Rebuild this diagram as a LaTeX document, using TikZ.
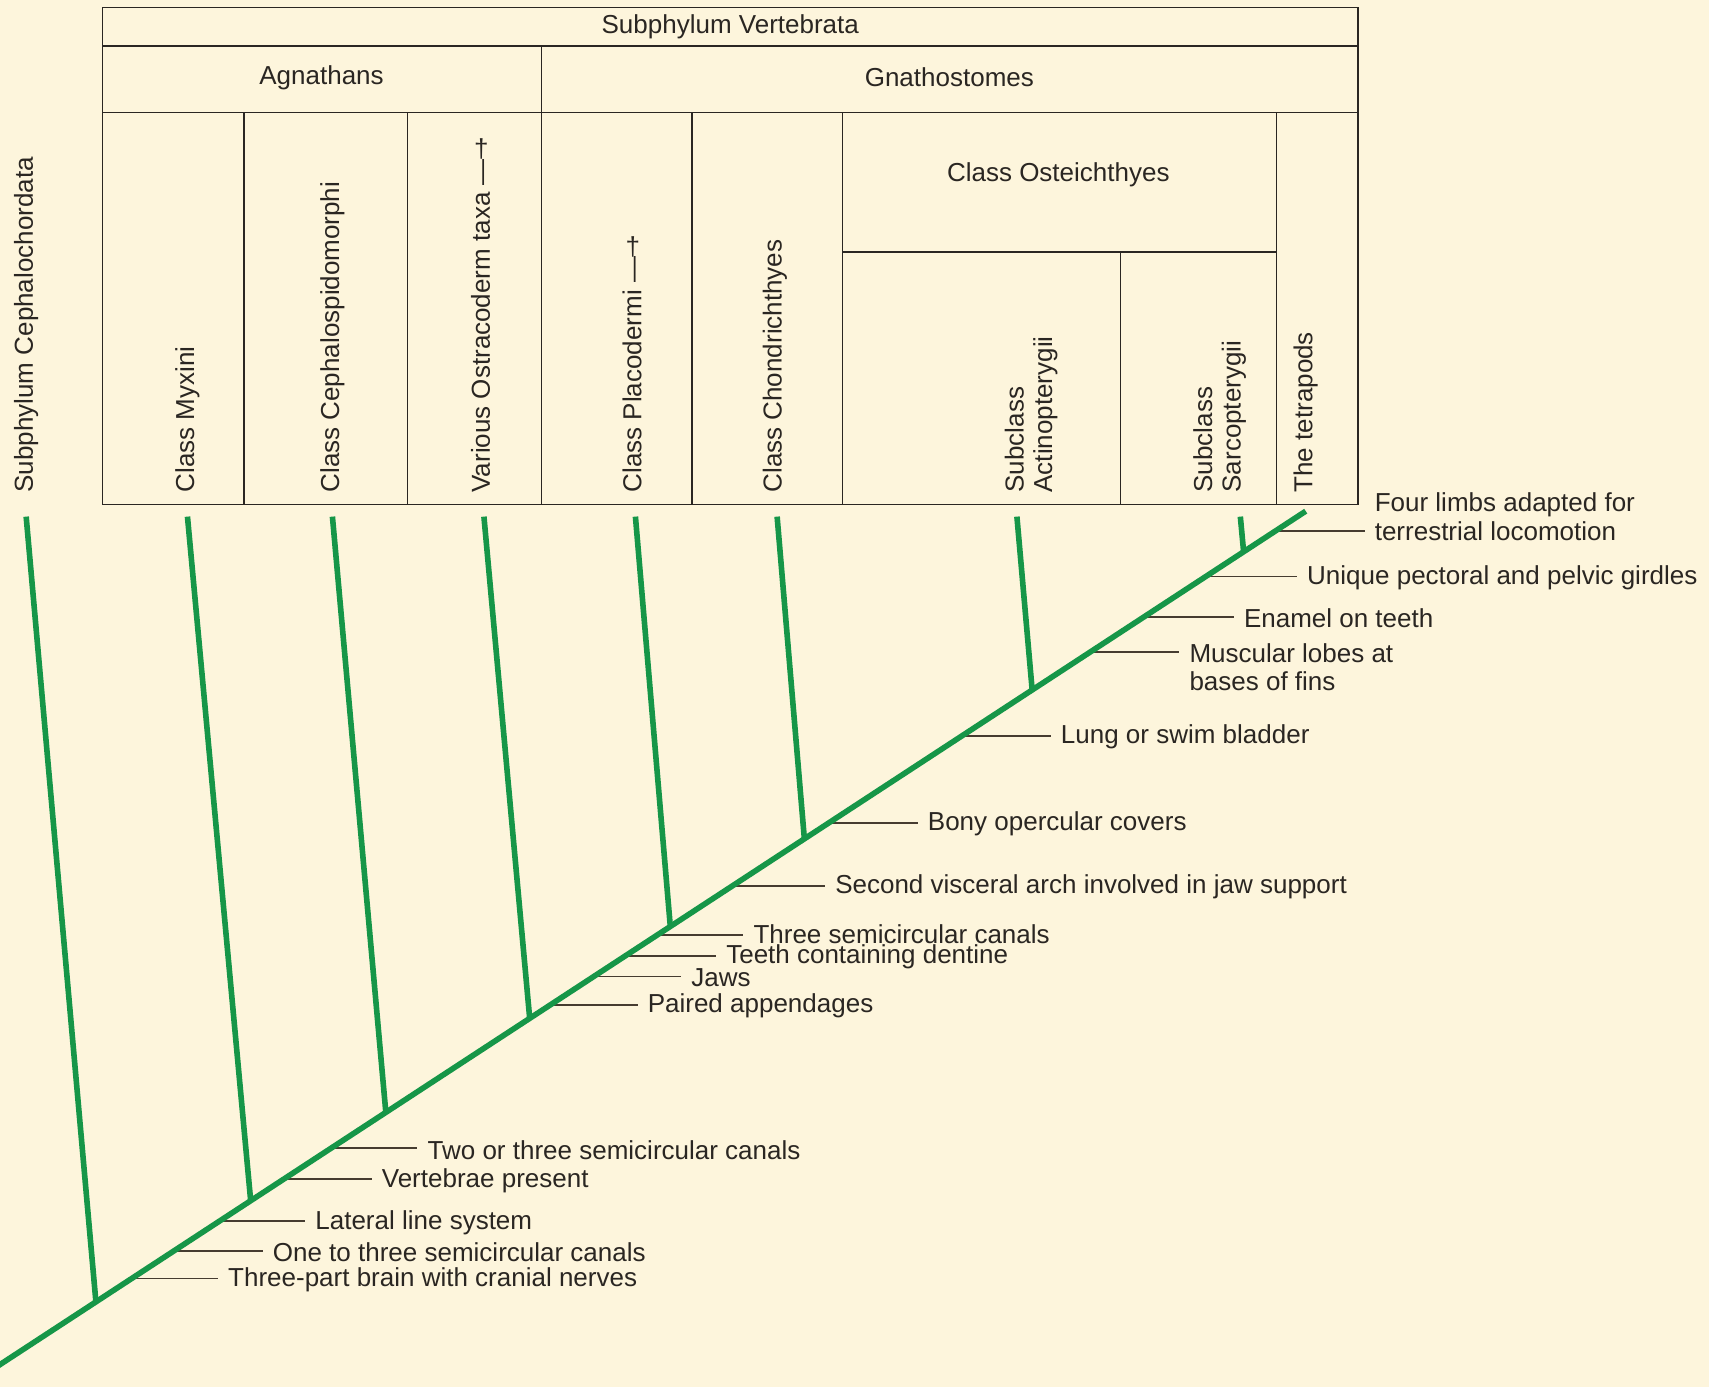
\documentclass[tikz,border=0pt]{standalone}
\usepackage{fontspec}
\setmainfont{Liberation Sans}
\usetikzlibrary{calc}
\definecolor{bg}{RGB}{253,245,220}
\definecolor{tree}{RGB}{22,150,72}
\definecolor{ink}{RGB}{42,38,34}
\definecolor{tickc}{RGB}{70,60,48}
\newcommand\mydagger{\rotatebox[origin=c]{-90}{†}}
\begin{document}
\begin{tikzpicture}[x=1.08992pt,y=-1.08992pt,
  tbl/.style={draw=ink, line width=1.5pt},
  lbl/.style={font=\fontsize{26}{28.5}\selectfont, text=ink, inner sep=0pt},
  vlbl/.style={lbl, rotate=90, anchor=west},
  feat/.style={lbl, anchor=west, inner xsep=10pt, align=left},
  branch/.style={draw=tree, line width=5.6pt},
  tick/.style={draw=tickc, line width=1.7pt}]
\useasboundingbox (0,0) rectangle (1568,1273);
\fill[bg] (0,0) rectangle (1568,1273);

% ---------- table ----------
\draw[tbl] (94,7) rectangle (1246,463);
\draw[tbl] (94,42) -- (1246,42);
\draw[tbl] (94,103) -- (1246,103);
\draw[tbl] (497,42) -- (497,463);
\foreach \x in {224,374,635,773,1171} \draw[tbl] (\x,103) -- (\x,463);
\draw[tbl] (773,231) -- (1171,231);
\draw[tbl] (1028,231) -- (1028,463);

\node[lbl] (vert) at (670,25) {Subphylum Vertebrata};
\node[lbl] (agn) at (295,71) {Agnathans};
\node[lbl] (gna) at (871,71) {Gnathostomes};
\node[lbl] (ost) at (971,160) {Class Osteichthyes};

\node[vlbl] (ceph) at (24,452) {Subphylum Cephalochordata};
\node[vlbl] (myx) at (172,452) {Class Myxini};
\node[vlbl] (cepd) at (305,452) {Class Cephalospidomorphi};
\node[vlbl] (ostr) at (441,452) {Various Ostracoderm taxa —\mydagger};
\node[vlbl] (plac) at (580,452) {Class Placodermi —\mydagger};
\node[vlbl] (chon) at (711,452) {Class Chondrichthyes};
\node[vlbl, align=left] (act) at (946,452) {Subclass\\Actinopterygii};
\node[vlbl, align=left] (sar) at (1119,452) {Subclass\\Sarcopterygii};
\node[vlbl] (tet) at (1198,452) {The tetrapods};

% ---------- tree coordinates ----------
\coordinate (root) at (-6,1255.9);
\coordinate (tip) at (1198,469);
\coordinate (jceph) at (88,1194.5);
\coordinate (jmyx) at (230,1101.7);
\coordinate (jcepd) at (354,1020.6);
\coordinate (jostr) at (486,934.4);
\coordinate (jplac) at (615,850.0);
\coordinate (jchon) at (738,769.6);
\coordinate (jact) at (947,633.0);
\coordinate (jsar) at (1141,506.2);
\coordinate (bceph) at (24,474);
\coordinate (bmyx) at (172,474);
\coordinate (bcepd) at (305,474);
\coordinate (bostr) at (444,474);
\coordinate (bplac) at (583,474);
\coordinate (bchon) at (713,474);
\coordinate (bact) at (933,474);
\coordinate (bsar) at (1138,474);

% ---------- feature labels ----------
\node[feat] (f1) at (1252,474) {Four limbs adapted for\\terrestrial locomotion};
\node[feat] (f2) at (1190,530) {Unique pectoral and pelvic girdles};
\node[feat] (f3) at (1132,567) {Enamel on teeth};
\node[feat] (f4) at (1082,612) {Muscular lobes at\\bases of fins};
\node[feat] (f5) at (964,676) {Lung or swim bladder};
\node[feat] (f6) at (842,756) {Bony opercular covers};
\node[feat] (f7) at (757,814) {Second visceral arch involved in jaw support};
\node[feat] (f8) at (682,857) {Three semicircular canals};
\node[feat] (f9) at (657,878) {Teeth containing dentine};
\node[feat] (f10) at (625,897) {Jaws};
\node[feat] (f11) at (585,923) {Paired appendages};
\node[feat] (f12) at (383,1055) {Two or three semicircular canals};
\node[feat] (f13) at (341,1083) {Vertebrae present};
\node[feat] (f14) at (280,1122) {Lateral line system};
\node[feat] (f15) at (241,1149) {One to three semicircular canals};
\node[feat] (f16) at (200,1174) {Three-part brain with cranial nerves};

\coordinate (k1) at (1170.4,487);
\coordinate (k2) at (1106.2,529);
\coordinate (k3) at (1049.6,566);
\coordinate (k4) at (1000.6,598);
\coordinate (k5) at (882.8,675);
\coordinate (k6) at (760.4,755);
\coordinate (k7) at (671.7,813);
\coordinate (k8) at (602.8,858);
\coordinate (k9) at (573.7,877);
\coordinate (k10) at (544.7,896);
\coordinate (k11) at (504.9,922);
\coordinate (k12) at (304.5,1053);
\coordinate (k13) at (260.1,1082);
\coordinate (k14) at (202.0,1120);
\coordinate (k15) at (159.1,1148);
\coordinate (k16) at (120.9,1173);

\foreach \i in {1,...,16} \draw[tick] (k\i) -- (k\i -| f\i.west);

% ---------- tree ----------
\foreach \n in {ceph,myx,cepd,ostr,plac,chon,act,sar}
  \draw[branch] (j\n) -- (b\n);
\draw[branch] (root) -- (tip);
\end{tikzpicture}
\end{document}
